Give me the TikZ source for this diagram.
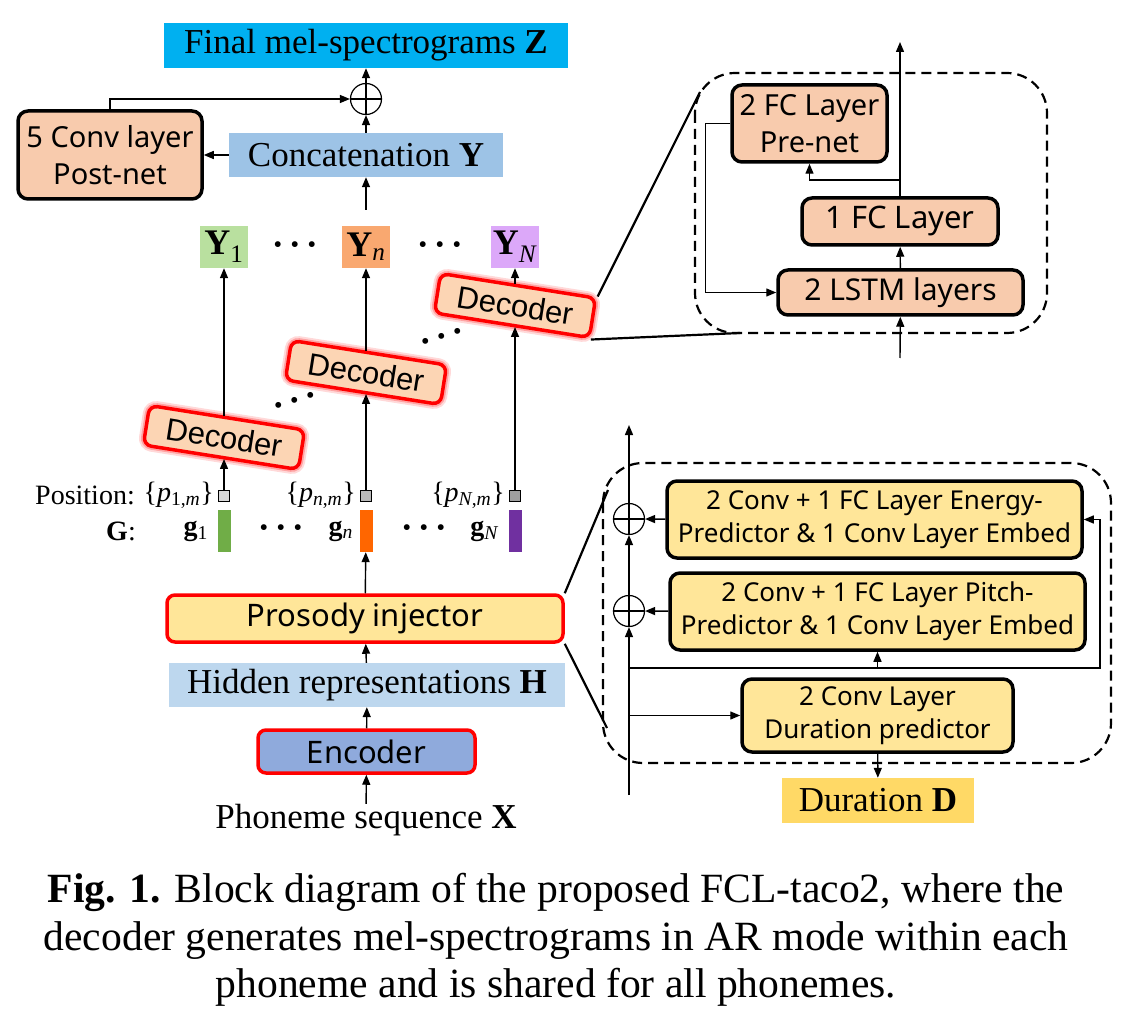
\documentclass[tikz,border=0pt]{standalone}
\usepackage{fontspec}
\setmainfont{Liberation Serif}
\newfontfamily\boxfont{Noto Sans}
\newfontfamily\decfont{Liberation Sans}
\usetikzlibrary{positioning, arrows.meta}
\usepackage{xcolor}

\definecolor{finblue}{HTML}{00B0F0}
\definecolor{catblue}{HTML}{9DC3E6}
\definecolor{hidblue}{HTML}{BDD7EE}
\definecolor{encblue}{HTML}{8FAADC}
\definecolor{peach}{HTML}{F8CBAD}
\definecolor{decpeach}{HTML}{FCD5B4}
\definecolor{prosyellow}{HTML}{FFE699}
\definecolor{durgold}{HTML}{FFD966}
\definecolor{yone}{HTML}{B9E09F}
\definecolor{yn}{HTML}{F9A870}
\definecolor{ybig}{HTML}{DCA8F9}
\definecolor{gone}{HTML}{70AD47}
\definecolor{gn}{HTML}{FF6600}
\definecolor{gbig}{HTML}{7030A0}

\newcommand{\threedots}{\textbf{\textperiodcentered\hspace{5pt}\textperiodcentered\hspace{5pt}\textperiodcentered}}

\begin{document}
\begin{tikzpicture}[x=1pt, y=-1pt,
        lbl/.style={rectangle, inner sep=0pt, align=center, font=\fontsize{35}{40}\selectfont},
        netbox/.style={rectangle, draw, line width=3.5pt, rounded corners=10pt, fill=peach, inner sep=0pt, align=center, font=\boxfont\fontsize{29}{37}\selectfont},
        redbox/.style={rectangle, draw=red, line width=3.5pt, rounded corners=8pt, inner sep=0pt, align=center, font=\boxfont\fontsize{31}{36}\selectfont},
        predbox/.style={netbox, fill=prosyellow, font=\boxfont\fontsize{26}{33}\selectfont},
        dec/.style={redbox, fill=decpeach, rotate=-9, minimum width=157pt, minimum height=40pt, font=\decfont\fontsize{31}{36}\selectfont,
            preaction={draw=red, opacity=0.15, line width=11pt}, preaction={draw=red, opacity=0.25, line width=7pt}},
        ybox/.style={rectangle, inner sep=0pt, minimum width=48pt, minimum height=42pt, font=\fontsize{36}{40}\selectfont},
        posbox/.style={rectangle, draw, line width=1pt, minimum size=11pt, inner sep=0pt},
        gbar/.style={rectangle, inner sep=0pt, minimum width=13pt, minimum height=42pt},
        small/.style={inner sep=0pt, font=\fontsize{28}{32}\selectfont},
        ddd/.style={inner sep=0pt, font=\fontsize{36}{40}\selectfont},
        sumnode/.style={circle, draw, line width=1.2pt, minimum size=31pt, inner sep=0pt,
            path picture={\draw[line width=1.2pt] (path picture bounding box.north) -- (path picture bounding box.south)
                (path picture bounding box.west) -- (path picture bounding box.east);}},
        arr/.style={-{Triangle[length=10pt, width=8pt]}, line width=1.4pt},
        zoomline/.style={line width=2.2pt},
        zoombox/.style={dashed, dash pattern=on 10pt off 6pt, line width=2.2pt, rounded corners=40pt}
    ]
        \useasboundingbox (0,0) rectangle (1144,1016);

        % Output side
        \node[lbl, fill=finblue, minimum width=404pt, minimum height=45pt] (fin) at (366,45.5) {Final mel-spectrograms \textbf{Z}};
        \node[sumnode] (sum) at (366,99) {};
        \node[netbox, minimum width=184pt, minimum height=88pt] (post) at (110,155) {5 Conv layer\\Post-net};
        \node[lbl, fill=catblue, minimum width=274pt, minimum height=44pt] (cat) at (366,155) {Concatenation \textbf{Y}};
        \coordinate (ytop) at (366,210);

        % Per-phoneme outputs
        \node[ybox, fill=yone] (y1) at (224,247) {\textbf{Y}\textsubscript{1}};
        \node[ybox, fill=yn] (yn) at (366,247) {\textbf{Y}\textsubscript{\textit{n}}};
        \node[ybox, fill=ybig] (yN) at (515,247) {\textbf{Y}\textsubscript{\textit{N}}};
        \node[ddd] at (295,249) {\threedots};
        \node[ddd] at (440,249) {\threedots};

        % Decoders
        \node[dec] (dec1) at (224,437.5) {Decoder};
        \node[dec] (dec2) at (366,372.5) {Decoder};
        \node[dec] (dec3) at (515,305.5) {Decoder};
        \node[ddd, rotate=17] at (296,405) {\threedots};
        \node[ddd, rotate=17] at (443,341) {\threedots};

        % Position and G rows
        \node[small] (poslbl) at (85,495) {Position:};
        \node[small, anchor=east] (p1) at (214,495) {\{\textit{p}\textsubscript{1,\textit{m}}\}};
        \node[small, anchor=east] (pn) at (356,495) {\{\textit{p}\textsubscript{\textit{n},\textit{m}}\}};
        \node[small, anchor=east] (pN) at (505,495) {\{\textit{p}\textsubscript{\textit{N},\textit{m}}\}};
        \node[posbox, fill=gray!30] (sq1) at (224,496) {};
        \node[posbox, fill=gray!55] (sqn) at (366,496) {};
        \node[posbox, fill=gray!75] (sqN) at (515,496) {};
        \node[small, anchor=east] (glbl) at (136,531) {\textbf{G}:};
        \node[small, anchor=east] (g1) at (208,531) {\textbf{g}\textsubscript{1}};
        \node[small, anchor=east] (gnl) at (353,531) {\textbf{g}\textsubscript{\textit{n}}};
        \node[small, anchor=east] (gNl) at (499,531) {\textbf{g}\textsubscript{\textit{N}}};
        \node[gbar, fill=gone] (bar1) at (224,531) {};
        \node[gbar, fill=gn] (barn) at (366,531) {};
        \node[gbar, fill=gbig] (barN) at (515,531) {};
        \node[ddd] at (281,532) {\threedots};
        \node[ddd] at (424,532) {\threedots};

        % Input side
        \node[redbox, fill=prosyellow, minimum width=396pt, minimum height=47pt] (pros) at (365,618.5) {Prosody injector};
        \node[lbl, fill=hidblue, minimum width=396pt, minimum height=44pt] (hid) at (367,685) {Hidden representations \textbf{H}};
        \node[redbox, fill=encblue, minimum width=217pt, minimum height=43pt] (enc) at (366.5,751.5) {Encoder};
        \node[lbl] (phon) at (366,820) {Phoneme sequence \textbf{X}};

        % Decoder detail
        \node[netbox, minimum width=155pt, minimum height=77pt] (pre) at (809.5,123.5) {2 FC Layer\\Pre-net};
        \node[netbox, minimum width=196pt, minimum height=47pt, font=\boxfont\fontsize{31}{36}\selectfont] (fc) at (900,221.5) {1 FC Layer};
        \node[netbox, minimum width=245pt, minimum height=45pt, font=\boxfont\fontsize{30}{36}\selectfont] (lstm) at (900.5,292.5) {2 LSTM layers};
        \coordinate (dtop) at (900,42);
        \coordinate (dbot) at (900,358);
        \coordinate (dbrk) at (900,180);
        \draw[zoombox] (695,73) rectangle (1047,333);

        % Prosody injector detail
        \node[predbox, minimum width=415pt, minimum height=77pt] (energy) at (874.5,519.5) {2 Conv + 1 FC Layer Energy-\\Predictor \& 1 Conv Layer Embed};
        \node[predbox, minimum width=415pt, minimum height=77pt] (pitch) at (877.5,611.5) {2 Conv + 1 FC Layer Pitch-\\Predictor \& 1 Conv Layer Embed};
        \node[predbox, minimum width=271pt, minimum height=73pt] (durp) at (877.5,715.5) {2 Conv Layer\\Duration predictor};
        \node[lbl, fill=durgold, minimum width=192pt, minimum height=45pt] (durD) at (878,800.5) {Duration \textbf{D}};
        \node[sumnode] (sumE) at (629,519) {};
        \node[sumnode] (sumP) at (629,611) {};
        \coordinate (vtop) at (629,425);
        \coordinate (vbot) at (629,795);
        \coordinate (brP) at (629,668);
        \coordinate (brD) at (629,715.5);
        \draw[zoombox] (603,463) rectangle (1111,763);

        % Caption
        \node[inner sep=0pt, align=center, font=\fontsize{41.6}{47.5}\selectfont] (cap) at (556,940)
            {\textbf{Fig. 1.} Block diagram of the proposed FCL-taco2, where the\\decoder generates mel-spectrograms in AR mode within each\\phoneme and is shared for all phonemes.};

        % Arrows
        \draw[arr] (sum) -- (fin);
        \draw[arr] (cat) -- (sum);
        \draw[arr] (post.north) |- (sum.west);
        \draw[arr] (cat) -- (post);
        \draw[arr] (ytop) -- (cat);
        \draw[arr] (dec1.center |- dec1.north) -- (y1);
        \draw[arr] (dec2.center |- dec2.north) -- (yn);
        \draw[arr] (dec3.center |- dec3.north) -- (yN);
        \draw[arr] (sq1) -- (sq1 |- dec1.south);
        \draw[arr] (sqn) -- (sqn |- dec2.south);
        \draw[arr] (sqN) -- (sqN |- dec3.south);
        \draw[arr] (pros) -- (barn);
        \draw[arr] (hid) -- (pros);
        \draw[arr] (enc) -- (hid);
        \draw[arr] (phon) -- (enc);

        \draw[arr] (dbot) -- (lstm);
        \draw[arr] (lstm) -- (fc);
        \draw[arr] (fc) -- (dtop);
        \draw[arr] (dbrk) -| (pre.south);
        \draw[arr] (pre.west) -- ++(-25,0) |- (lstm.west);
        \draw[zoomline] (dec3.north east) -- (700,92);
        \draw[zoomline] (dec3.south east) -- (740,333);

        \draw[arr] (vbot) -- (sumP);
        \draw[arr] (sumP) -- (sumE);
        \draw[arr] (sumE) -- (vtop);
        \draw[arr] (energy) -- (sumE);
        \draw[arr] (pitch) -- (sumP);
        \draw[arr] (brP) -| (pitch.south);
        \draw[arr] (brP) -- ++(471,0) |- (energy.east);
        \draw[arr] (brD) -- (durp);
        \draw[arr] (durp) -- (durD);
        \draw[zoomline] (pros.north east) -- (608,490);
        \draw[zoomline] (pros.south east) -- (607,728);
    \end{tikzpicture}
\end{document}
